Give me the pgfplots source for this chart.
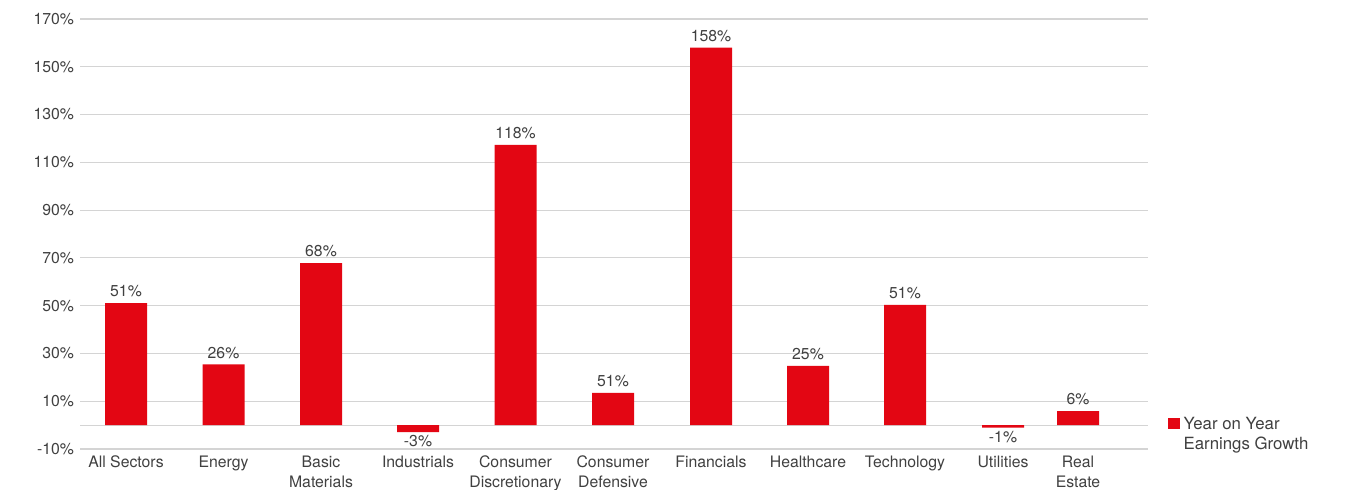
\documentclass[border=0pt]{standalone}
\usepackage{pgfplots}
\pgfplotsset{compat=1.18}
\usepackage{fontspec}
\setmainfont{TeX Gyre Heros}
\definecolor{barred}{HTML}{E30613}
\definecolor{txtgray}{HTML}{404040}
\definecolor{gridgray}{HTML}{D4D4D4}

\begin{document}
\begin{tikzpicture}
\useasboundingbox (-40pt,-20.5pt) rectangle (633.5pt,224.5pt);
\begin{axis}[
    scale only axis,
    width=534pt, height=215pt,
    xmin=80, xmax=1148,
    ymin=-10, ymax=170,
    ytick={-10,10,30,50,70,90,110,130,150,170},
    yticklabel={\pgfmathprintnumber{\tick}\%},
    extra y ticks={0},
    extra y tick labels={},
    extra y tick style={grid=major},
    ymajorgrids,
    grid style={gridgray, line width=0.6pt},
    axis line style={draw=none},
    major tick length=0pt,
    xtick={126,223.5,321,418,515.5,613,711,808,905,1003,1078},
    xticklabels={All Sectors,Energy,Basic\\Materials,Industrials,Consumer\\Discretionary,Consumer\\Defensive,Financials,Healthcare,Technology,Utilities,Real\\Estate},
    xticklabel style={align=center, font=\fontsize{7.9}{9.8}\selectfont, text=txtgray, yshift=0pt},
    yticklabel style={font=\fontsize{7.9}{10}\selectfont, text=txtgray, xshift=0.5pt},
    /pgf/number format/assume math mode=true,
    ybar,
    bar width=21pt,
    bar shift=0pt,
    point meta=explicit symbolic,
    nodes near coords,
    nodes near coords style={font=\fontsize{7.9}{10}\selectfont, text=txtgray, inner sep=2.8pt},
    legend style={draw=none, at={(axis description cs:1,0)}, anchor=south west, xshift=7pt, yshift=4pt, font=\fontsize{8.4}{10.5}\selectfont, text=txtgray},
    legend image code/.code={\fill[barred] (0pt,-2.8pt) rectangle (5.6pt,2.8pt);},
    clip=false,
]
\addplot[fill=barred, draw=none] table[meta=lbl] {
x      y      lbl
126    51.1   51\%
223.5  25.4   26\%
321    67.8   68\%
515.5  117.3  118\%
613    13.5   51\%
711    158.0  158\%
808    24.8   25\%
905    50.3   51\%
1078   5.9    6\%
};
\addlegendentry{\begin{tabular}[t]{@{}l@{}}Year on Year\\[-0.5pt]Earnings Growth\end{tabular}}
\addplot[fill=barred, draw=none, forget plot,
    nodes near coords style={anchor=north, inner sep=1.5pt}] table[meta=lbl] {
x      y      lbl
418    -2.9   -3\%
1003   -1.1   -1\%
};
\end{axis}
\end{tikzpicture}
\end{document}
